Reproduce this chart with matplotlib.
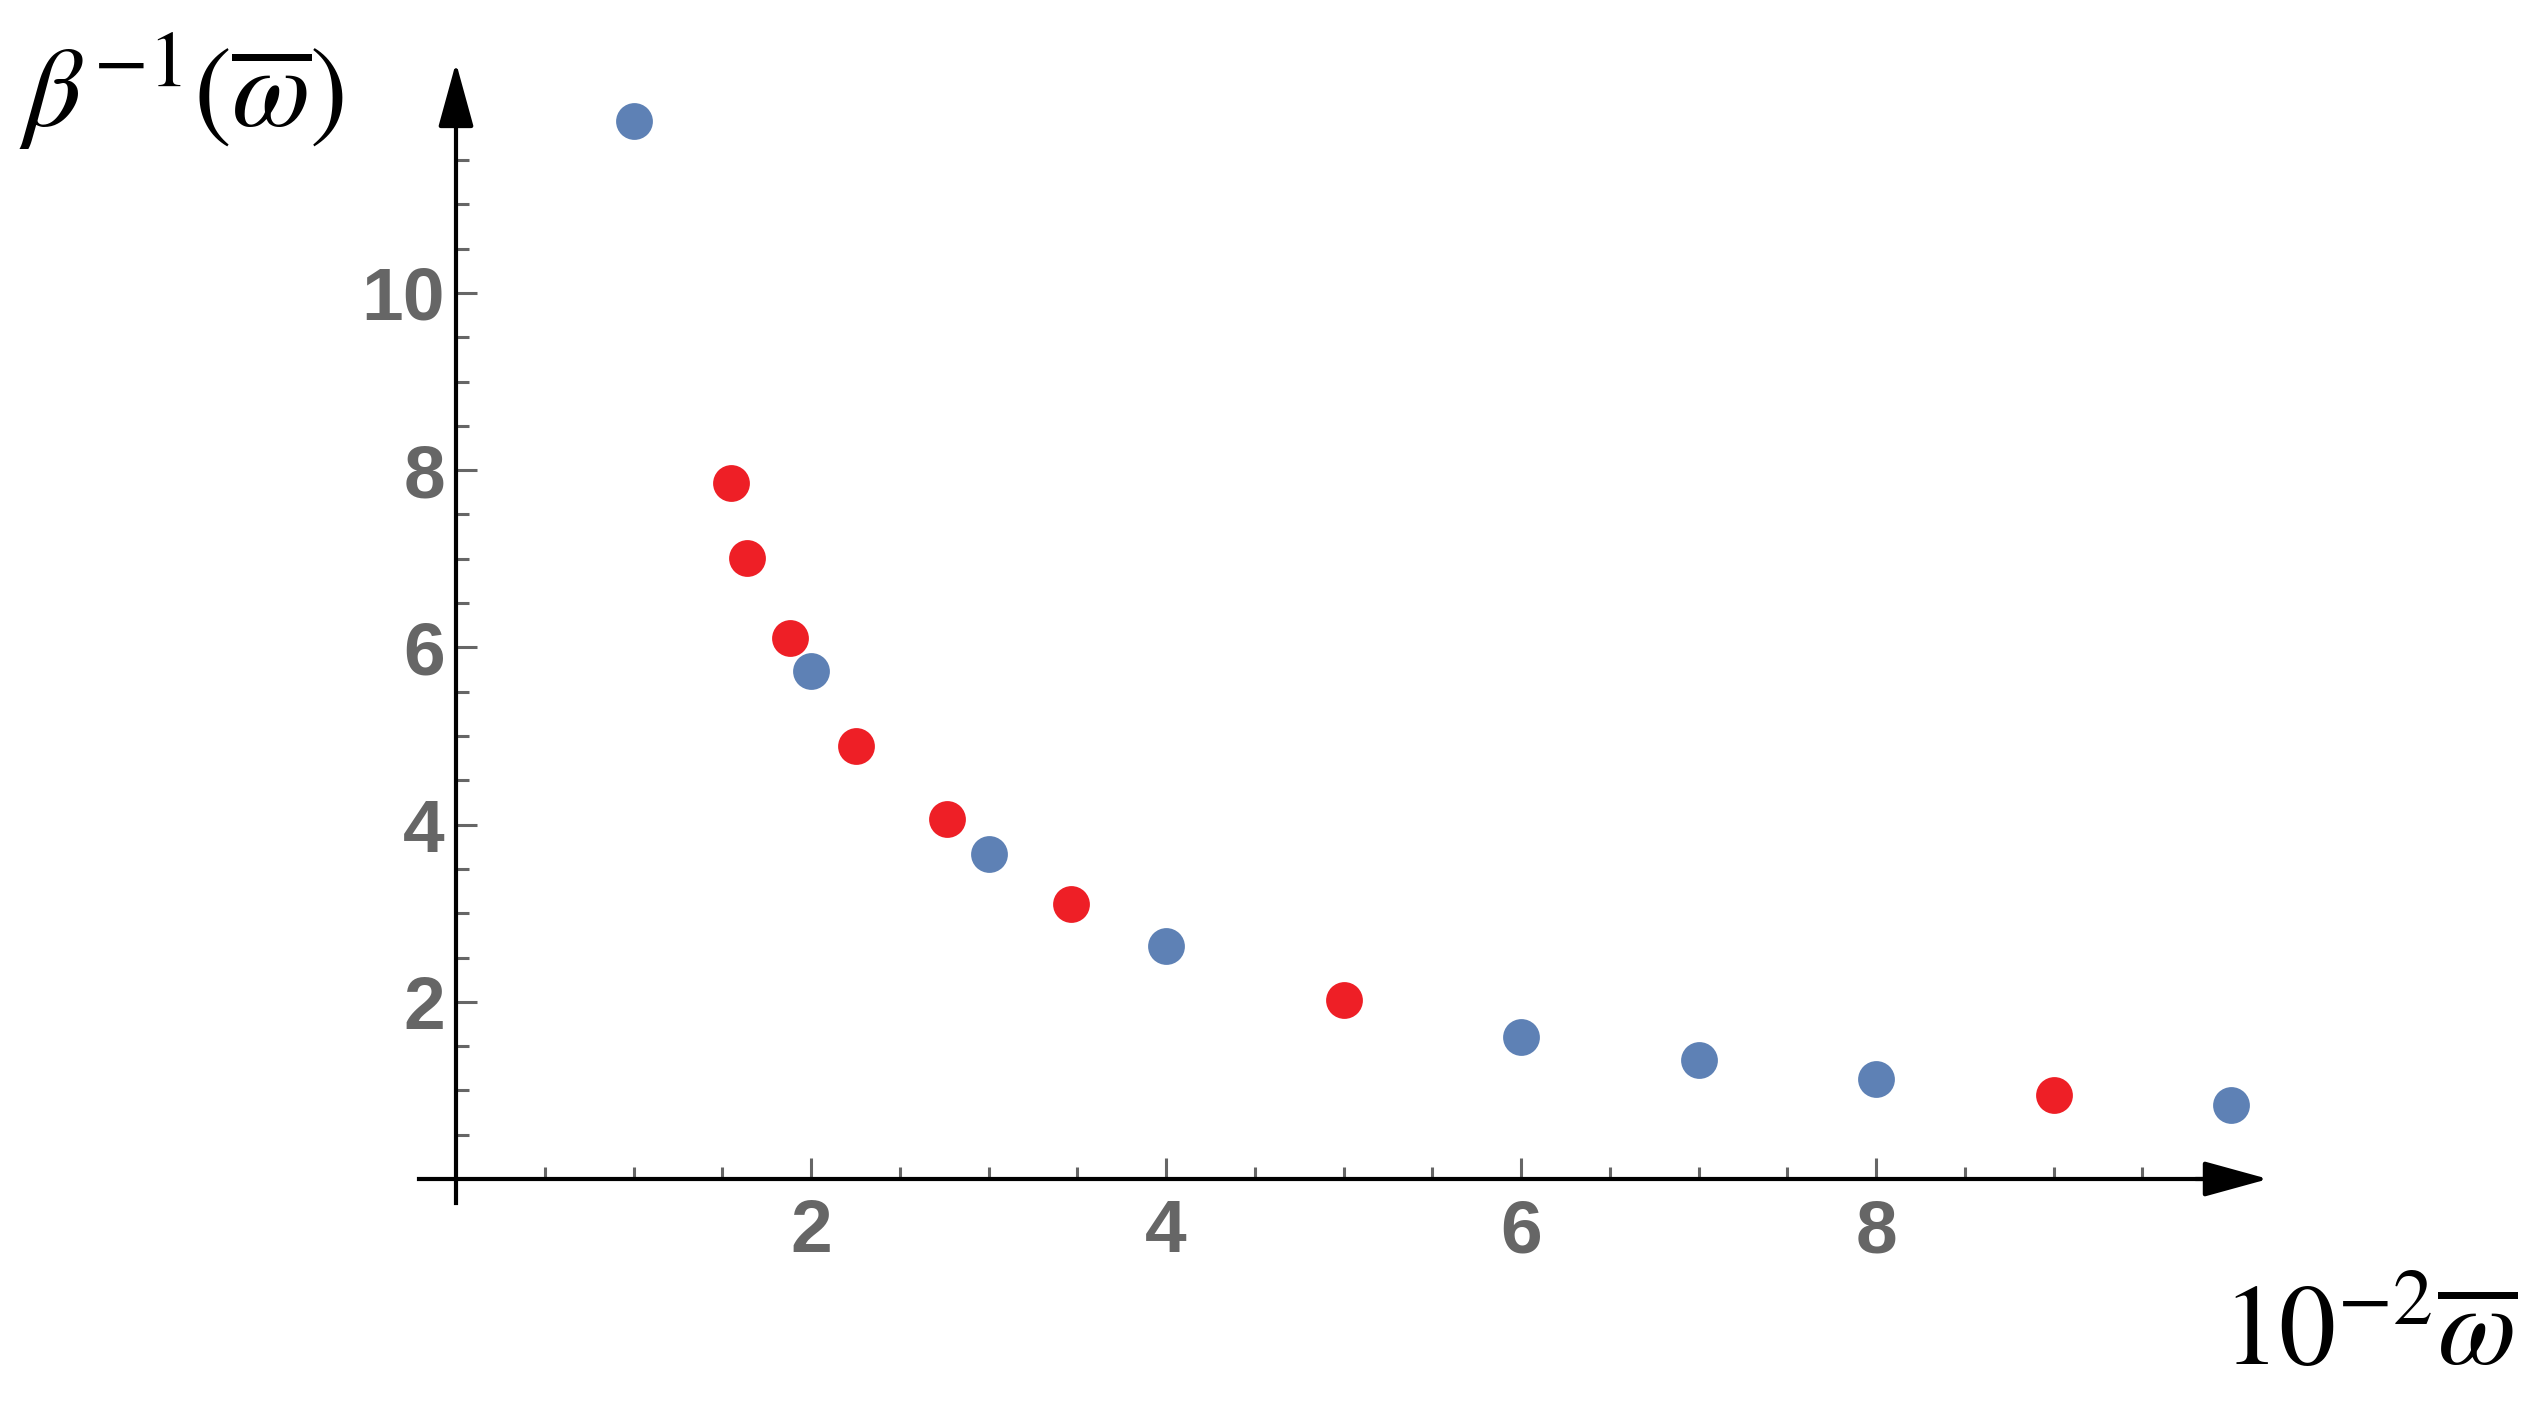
#!python
# -*- coding: utf-8 -*-
""" Scatter of beta^{-1} against 10^{-2} omega-bar, two point sets, Mathematica-like arrow axes. """

# Imports
import matplotlib
matplotlib.use('Agg')
import matplotlib.pyplot as plt
from matplotlib import font_manager

# data
blue_x = [1, 2, 3, 4, 6, 7, 8, 10]
blue_y = [11.94, 5.73, 3.665, 2.625, 1.606, 1.34, 1.125, 0.83]
red_x = [1.55, 1.64, 1.88, 2.255, 2.765, 3.467, 5.0, 9.0]
red_y = [7.85, 7.01, 6.11, 4.89, 4.06, 3.10, 2.025, 0.945]

xticks_major = [2, 4, 6, 8]
yticks_major = [2, 4, 6, 8, 10]
xticks_minor = [i * 0.5 for i in range(1, 20)]
yticks_minor = [i * 0.5 for i in range(1, 24)]

xlabel = r'$10^{-2}\overline{\omega}$'
ylabel = r'$\beta^{-1}(\overline{\omega})$'

blue = '#5E81B5'
red = '#EE1F26'
gray = '#666666'


def pick_font():
    names = set(f.name for f in font_manager.fontManager.ttflist)
    for n in ['Liberation Sans Narrow', 'Liberation Sans', 'DejaVu Sans']:
        if n in names:
            return n
    return 'DejaVu Sans'


def plot_chart():
    plt.rcParams['mathtext.fontset'] = 'stix'
    tick_font = pick_font()

    W, H, dpi = 2543, 1407, 100
    fig = plt.figure(figsize=(W / dpi, H / dpi), dpi=dpi)
    ax = fig.add_axes([0, 0, 1, 1])
    ax.set_facecolor('white')

    # pixel mapping: x_px = 456 + 177.5 x ; y_px(from top) = 1179 - 88.6 y
    ax.set_xlim(-456 / 177.5, (W - 456) / 177.5)
    ax.set_ylim((1179 - H) / 88.6, 1179 / 88.6)

    # points
    ax.plot(blue_x, blue_y, 'o', ms=26.5, color=blue, mec='none', zorder=5)
    ax.plot(red_x, red_y, 'o', ms=26.5, color=red, mec='none', zorder=5)

    # axes lines through origin
    for s in ['top', 'right']:
        ax.spines[s].set_visible(False)
    ax.spines['left'].set_position(('data', 0))
    ax.spines['bottom'].set_position(('data', 0))
    ax.spines['left'].set_bounds(-0.27, 12.2)
    ax.spines['bottom'].set_bounds(-0.21, 9.95)
    for s in ['left', 'bottom']:
        ax.spines[s].set_linewidth(3.0)
        ax.spines[s].set_color('black')
        ax.spines[s].set_zorder(3)

    # arrow heads
    ax.annotate('', xy=(10.21, 0), xytext=(9.8, 0),
                arrowprops=dict(arrowstyle='-|>,head_length=40,head_width=11',
                                mutation_scale=1, color='black', lw=3,
                                shrinkA=0, shrinkB=0))
    ax.annotate('', xy=(0, 12.6), xytext=(0, 11.9),
                arrowprops=dict(arrowstyle='-|>,head_length=40,head_width=11',
                                mutation_scale=1, color='black', lw=3,
                                shrinkA=0, shrinkB=0))

    # ticks
    ax.set_xticks(xticks_major)
    ax.set_yticks(yticks_major)
    ax.set_xticks(xticks_minor, minor=True)
    ax.set_yticks(yticks_minor, minor=True)
    ax.set_xticklabels([str(v) for v in xticks_major])
    ax.set_yticklabels([str(v) for v in yticks_major])
    ax.tick_params(which='major', direction='in', length=15, width=2.2,
                   color=gray, labelcolor=gray, labelsize=54)
    ax.tick_params(which='minor', direction='in', length=9, width=2.2,
                   color=gray)
    ax.tick_params(axis='x', which='major', pad=14)
    ax.tick_params(axis='y', which='major', pad=8)
    for lab in ax.get_xticklabels() + ax.get_yticklabels():
        lab.set_fontfamily(tick_font)
        lab.set_fontweight('bold')
        lab.set_fontstretch('condensed')

    # axis labels
    fig.text(0.0075, 1 - 127 / H, ylabel, ha='left', va='baseline',
             fontsize=82, color='black')
    fig.text(2517 / W, 1 - 1365 / H, xlabel, ha='right', va='baseline',
             fontsize=82, color='black')

    fig.savefig('out.png', dpi=dpi, facecolor='white')


if __name__ == '__main__':
    plot_chart()
